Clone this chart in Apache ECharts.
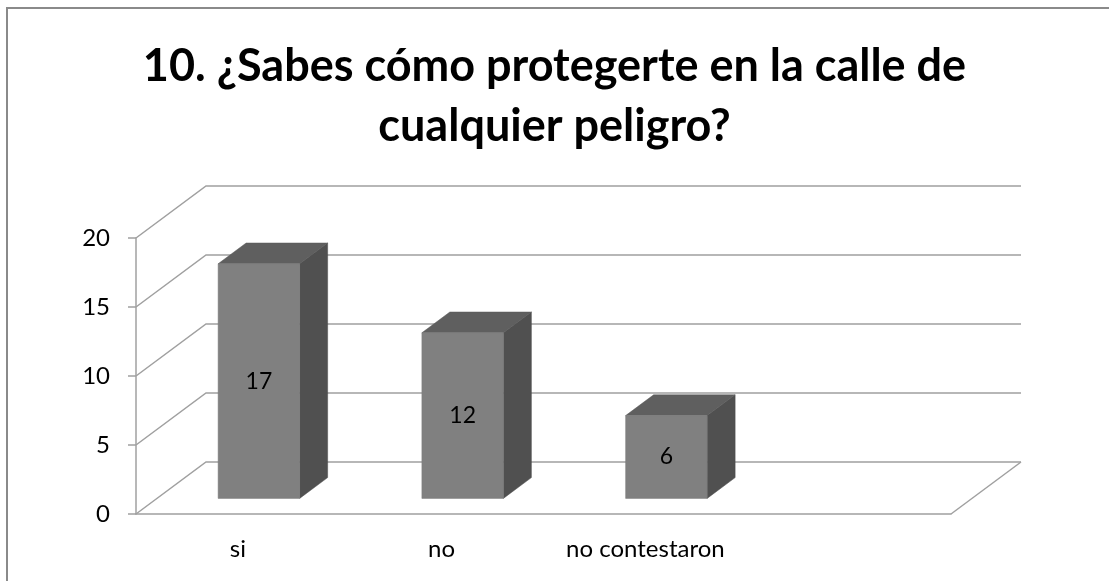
<!DOCTYPE html>
<html>
<head>
<meta charset="utf-8">
<script src="https://cdn.jsdelivr.net/npm/echarts@6/dist/echarts.min.js"></script>
<style>
  html, body { margin: 0; padding: 0; background: #fff; }
  #chart { width: 1109px; height: 581px; }
</style>
</head>
<body>
<div id="chart"></div>
<script>
const titleText = '10. ¿Sabes cómo protegerte en la calle de\ncualquier peligro?'
const categories = ['si', 'no', 'no contestaron', '']
const values = [17, 12, 6]
const yTicks = [0, 5, 10, 15, 20]

// depth of the 3d box in pixels, and where the bars sit inside it
const DX = 70
const DY = -52
const BAR_FRONT = 0.3
const BAR_BACK = 0.7
const LINE = '#a0a0a0'
const FONT = 'Lato, "Liberation Sans", sans-serif'

const chart = echarts.init(document.getElementById('chart'))

function renderWall(params, api) {
  const v = api.value(0)
  const cs = params.coordSys
  const p = api.coord([0, v])
  const left = cs.x
  const right = cs.x + cs.width
  const y = p[1]
  const pts = [[left, y], [left + DX, y + DY], [right + DX, y + DY]]
  const children = [{
    type: 'polyline',
    shape: { points: pts },
    style: { stroke: LINE, lineWidth: 1.5, fill: null }
  }]
  if (v === 0) {
    // right edge of the floor
    children.push({
      type: 'line',
      shape: { x1: right, y1: y, x2: right + DX, y2: y + DY },
      style: { stroke: LINE, lineWidth: 1.5 }
    })
  }
  return { type: 'group', children: children }
}

function renderBar(params, api) {
  const idx = api.value(0)
  const v = api.value(1)
  const base = api.coord([idx, 0])
  const top = api.coord([idx, v])
  const band = api.size([1, 0])[0]
  const w = band * 0.4
  const ox = DX * BAR_FRONT
  const oy = DY * BAR_FRONT
  const dx = DX * (BAR_BACK - BAR_FRONT)
  const dy = DY * (BAR_BACK - BAR_FRONT)
  const xl = base[0] - w / 2 + ox
  const xr = xl + w
  const yt = top[1] + oy
  const yb = base[1] + oy
  return {
    type: 'group',
    children: [
      {
        type: 'polygon',
        shape: { points: [[xr, yt], [xr + dx, yt + dy], [xr + dx, yb + dy], [xr, yb]] },
        style: { fill: '#505050', stroke: '#4a4a4a', lineWidth: 0.5 }
      },
      {
        type: 'polygon',
        shape: { points: [[xl, yt], [xl + dx, yt + dy], [xr + dx, yt + dy], [xr, yt]] },
        style: { fill: '#5f5f5f', stroke: '#595959', lineWidth: 0.5 }
      },
      {
        type: 'rect',
        shape: { x: xl, y: yt, width: w, height: yb - yt },
        style: { fill: '#808080', stroke: '#7a7a7a', lineWidth: 0.5 }
      },
      {
        type: 'text',
        x: xl + w / 2,
        y: (yt + yb) / 2,
        style: {
          text: String(v),
          fill: '#000',
          font: '23px ' + FONT,
          align: 'center',
          verticalAlign: 'middle'
        }
      }
    ]
  }
}

const option = {
  animation: false,
  backgroundColor: '#fff',
  title: {
    text: titleText,
    left: 'center',
    top: 31,
    textStyle: {
      fontFamily: FONT,
      fontWeight: 'bold',
      fontSize: 45,
      lineHeight: 60,
      color: '#000'
    }
  },
  graphic: [{
    type: 'rect',
    shape: { x: 7, y: 8, width: 1200, height: 700 },
    style: { fill: null, stroke: '#8a8a8a', lineWidth: 2 },
    silent: true
  }],
  grid: { left: 136, right: 158, top: 238, bottom: 67 },
  xAxis: {
    type: 'category',
    data: categories,
    axisLine: { lineStyle: { color: LINE, width: 1.5 } },
    axisTick: { length: 7, interval: 0, lineStyle: { color: LINE, width: 1.5 } },
    axisLabel: { interval: 0, margin: 23, fontSize: 24, fontFamily: FONT, color: '#000' }
  },
  yAxis: {
    type: 'value',
    min: 0,
    max: 20,
    interval: 5,
    axisLine: { show: true, lineStyle: { color: LINE, width: 1.5 } },
    axisTick: { show: true, length: 8, lineStyle: { color: LINE, width: 1.5 } },
    axisLabel: { margin: 26, fontSize: 24, fontFamily: FONT, color: '#000' },
    splitLine: { show: false }
  },
  series: [
    {
      type: 'custom',
      z: 1,
      silent: true,
      renderItem: renderWall,
      encode: { y: 0 },
      data: yTicks.map(t => [t])
    },
    {
      type: 'custom',
      z: 3,
      renderItem: renderBar,
      encode: { x: 0, y: 1 },
      data: values.map((v, i) => [i, v])
    }
  ]
}

chart.setOption(option)
</script>
</body>
</html>
